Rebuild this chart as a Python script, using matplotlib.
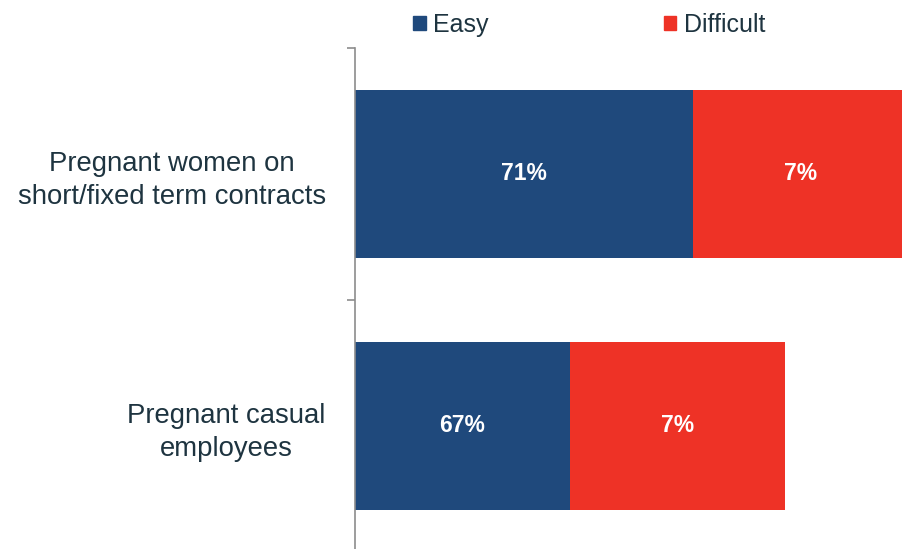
import matplotlib
matplotlib.use("Agg")
import matplotlib.pyplot as plt
import matplotlib.transforms as mtransforms
from matplotlib.patches import Patch

# Survey shares by group (percent)
groups = ["Pregnant casual\nemployees", "Pregnant women on\nshort/fixed term contracts"]
easy = [67, 71]
difficult = [7, 7]
series_names = ["Easy", "Difficult"]

NAVY = "#1f497c"
RED = "#ee3226"
TEXT = "#1e3440"
XMIN, XMAX = 60, 77.8

plt.rcParams["font.family"] = ["Liberation Sans", "DejaVu Sans"]

fig = plt.figure(figsize=(9.02, 5.49), dpi=100)
ax = fig.add_axes([355 / 902, -3 / 549, 547 / 902, 504 / 549])

ypos = list(range(len(groups)))
ax.barh(ypos, easy, height=0.668, color=NAVY)
ax.barh(ypos, difficult, left=easy, height=0.668, color=RED)
ax.set_xlim(XMIN, XMAX)
ax.set_ylim(-0.5, len(groups) - 0.5)

# value labels, centred on the visible part of each segment
for y, e, d in zip(ypos, easy, difficult):
    ax.text((max(0, XMIN) + e) / 2, y, f"{e}%", ha="center", va="center",
            color="white", fontsize=16.5, fontweight="bold")
    ax.text(e + d / 2, y, f"{d}%", ha="center", va="center",
            color="white", fontsize=16.5, fontweight="bold")

for s in ("top", "right", "bottom"):
    ax.spines[s].set_visible(False)
ax.spines["left"].set_color("#8c8c8c")
ax.spines["left"].set_linewidth(1.2)
ax.set_xticks([])
ax.set_yticks(ypos)
ax.set_yticklabels(groups, fontsize=19.8, color=TEXT)
lift = mtransforms.ScaledTranslation(0, 3 / 72, fig.dpi_scale_trans)
for t in ax.get_yticklabels():
    t.set_multialignment("center")
    t.set_linespacing(1.35)
    t.set_transform(t.get_transform() + lift)
ax.tick_params(axis="y", which="major", length=0, pad=21)
ax.set_yticks([y + 0.5 for y in range(-1, len(groups))], minor=True)
ax.tick_params(axis="y", which="minor", length=6, width=1.2, color="#8c8c8c")

handles = [Patch(color=NAVY), Patch(color=RED)]
fig.legend(handles, series_names, loc="center", bbox_to_anchor=(0.653, 0.955),
           ncol=2, frameon=False, fontsize=18, handlelength=0.5, handleheight=0.5,
           handletextpad=0.3, columnspacing=7.0, borderpad=0, labelcolor=TEXT)

fig.savefig("out.png", dpi=100)
